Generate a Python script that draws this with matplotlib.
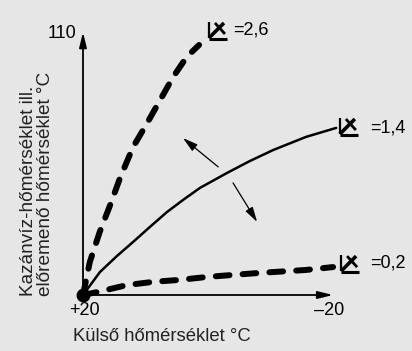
import matplotlib
matplotlib.use("Agg")
import matplotlib.pyplot as plt
from matplotlib.transforms import Affine2D, ScaledTranslation

plt.rcParams['font.family'] = ['Liberation Sans', 'DejaVu Sans']

# Heating curves: outdoor temperature (°C) -> flow temperature (°C)
out_26 = [20, 18.9, 17.3, 15.6, 14.0, 11.9, 9.6, 7.5, 5.4, 3.2, 1.2]
flow_26 = [20, 31.3, 41.6, 50.9, 60.2, 70.8, 79.1, 87.0, 94.9, 101.8, 105.9]

out_14 = [20, 17.25, 14.5, 11.9, 9.1, 6.4, 3.7, 1.05, -3.3, -7.0, -10.8, -16.1, -21.0]
flow_14 = [20, 27.9, 33.4, 38.2, 43.5, 48.5, 52.8, 56.8, 61.9, 66.0, 69.8, 74.3, 77.4]

out_02 = [20, 17.7, 12.9, 8.7, 4.3, -0.1, -4.3, -8.7, -16.1, -20.5]
flow_02 = [20, 21.0, 23.4, 24.5, 25.2, 26.2, 26.9, 27.6, 28.6, 29.6]

slopes = ["2,6", "1,4", "0,2"]
x_ticks = ["+20", "\u201320"]
y_top = "110"

bg = '#e6e6e6'
fig = plt.figure(figsize=(4.12, 3.51), dpi=100, facecolor=bg)
ax = fig.add_axes([0, 0, 1, 1], facecolor=bg)
ax.set_xlim(33.44, -33.28)
ax.set_ylim(0.76, 121.34)
ax.axis('off')

# axes with arrow heads
arrow_kw = dict(arrowstyle='-|>,head_length=0.9,head_width=0.22', color='black',
                lw=1.3, shrinkA=0, shrinkB=0)
ax.annotate('', xy=(20, 110.3), xytext=(20, 20), arrowprops=arrow_kw)
ax.annotate('', xy=(-20.5, 20), xytext=(20, 20), arrowprops=arrow_kw)

dash = (0, (2.3, 2.2))
ax.plot(out_26, flow_26, color='black', lw=4.3, ls=dash, dash_capstyle='round')
ax.plot(out_14, flow_14, color='black', lw=1.8, solid_capstyle='round')
ax.plot(out_02, flow_02, color='black', lw=4.3, ls=dash, dash_capstyle='round')
ax.plot([20], [20], 'o', color='black', ms=9)

# double arrow showing the direction of curve change
thin = dict(arrowstyle='-|>,head_length=0.9,head_width=0.25', color='black',
            lw=0.9, shrinkA=0, shrinkB=0)
ax.annotate('', xy=(3.8, 73.9), xytext=(-1.9, 64.0), arrowprops=thin)
ax.annotate('', xy=(-8.2, 45.1), xytext=(-4.3, 58.5), arrowprops=thin)


def slope_mark(x, y):
    """Draw the slope symbol with its lower-left corner at data point (x, y)."""
    tr = Affine2D() + ScaledTranslation(x, y, ax.transData)
    ax.plot([0, 0], [0, 16], color='black', lw=1.6, transform=tr, solid_capstyle='butt')
    ax.plot([0, 18], [-1, -1], color='black', lw=2.2, transform=tr, solid_capstyle='butt')
    ax.plot([0, 15], [0, 15], color='black', lw=2.6, transform=tr, solid_capstyle='butt')
    ax.plot([6, 16], [15, 4], color='black', lw=2.0, transform=tr, solid_capstyle='butt')


label_pos = [(-0.4, 108.3, -4.3, 111.0), (-21.6, 75.3, -26.5, 77.4), (-21.8, 28.2, -26.5, 31.0)]
for s, (sx, sy, tx, ty) in zip(slopes, label_pos):
    slope_mark(sx, sy)
    ax.text(tx, ty, "=" + s, fontsize=13, ha='left', va='center')

fs = 13
ax.text(19.7, 14.6, x_ticks[0], fontsize=fs, ha='center', va='center')
ax.text(-19.8, 14.6, x_ticks[1], fontsize=fs, ha='center', va='center')
ax.text(21.0, 110.0, y_top, fontsize=fs, ha='right', va='center')

ax.text(21.6, 5.6, "Külső hőmérséklet °C", fontsize=13.3, ha='left', va='center', color='#222222')
ax.text(28.9, 19.5, "Kazánvíz-hőmérséklet ill.", fontsize=13.7, rotation=90,
        ha='left', va='center', rotation_mode='anchor', color='#222222')
ax.text(26.0, 19.5, "előremenő hőmérséklet °C", fontsize=13.7, rotation=90,
        ha='left', va='center', rotation_mode='anchor', color='#222222')

fig.savefig('out.png', dpi=100, facecolor=bg)
